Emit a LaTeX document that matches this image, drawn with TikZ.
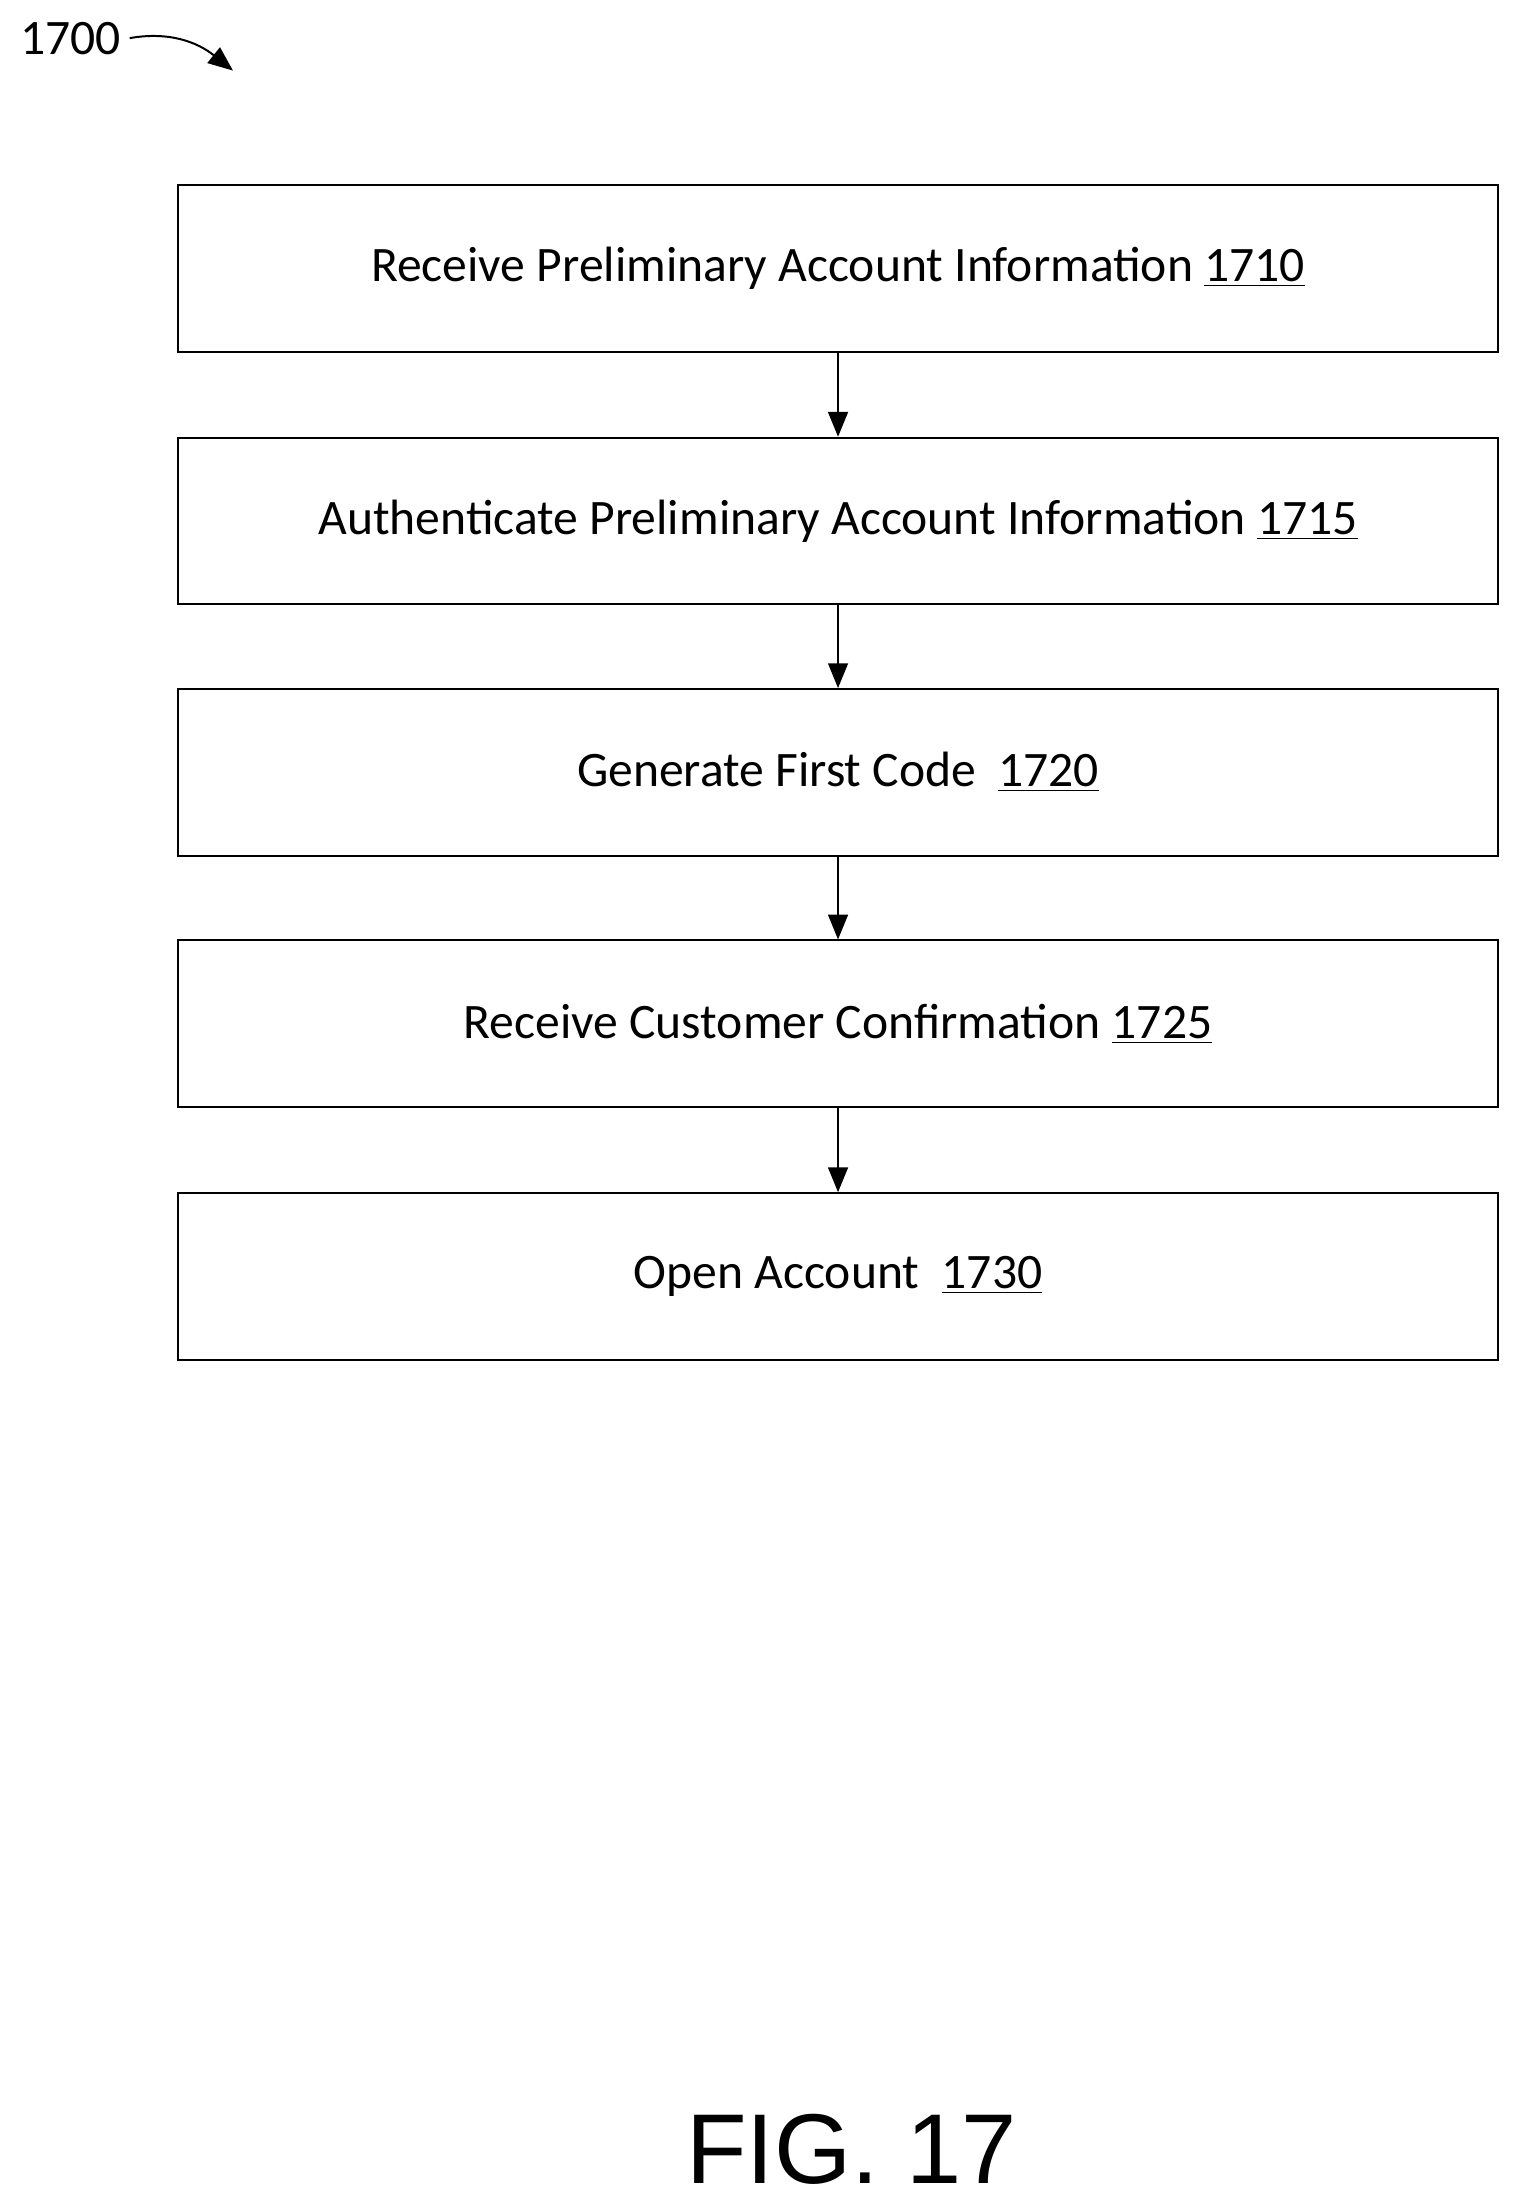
\documentclass[tikz,border=0pt]{standalone}
\usepackage{fontspec}
\setmainfont{Carlito}
\newfontfamily\figfont{Liberation Sans}
\usetikzlibrary{arrows.meta}
\tikzset{
  process/.style={draw, line width=0.8pt, minimum width=935*0.02cm, minimum height=118*0.02cm, font=\fontsize{20}{24}\selectfont},
  flow/.style={-{Triangle[length=10pt,width=8pt]}, line width=0.8pt},
}
\begin{document}
\begin{tikzpicture}[x=0.02cm, y=-0.02cm]
\useasboundingbox (0,0) rectangle (1077,1563);
\node[font=\fontsize{20}{24}\selectfont] (lbl) at (50,27) {1700};
\coordinate (tip) at (165,50);
\draw[flow] (lbl.east) .. controls (120,22) and (140,30) .. (tip);
\node[process] (s1710) at (593.5,190) {Receive Preliminary Account Information \underline{1710}};
\node[process] (s1715) at (593.5,369) {Authenticate Preliminary Account Information \underline{1715}};
\node[process] (s1720) at (593.5,547) {Generate First Code\ \ \underline{1720}};
\node[process] (s1725) at (593.5,725) {Receive Customer Confirmation \underline{1725}};
\node[process] (s1730) at (593.5,904) {Open Account\ \ \underline{1730}};
\draw[flow] (s1710) -- (s1715);
\draw[flow] (s1715) -- (s1720);
\draw[flow] (s1720) -- (s1725);
\draw[flow] (s1725) -- (s1730);
\node[font=\figfont\fontsize{40}{44}\selectfont] (fig) at (603,1522) {FIG. 17};
\end{tikzpicture}
\end{document}
